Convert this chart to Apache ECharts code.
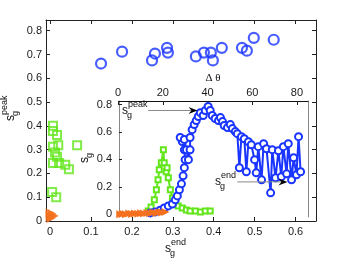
<!DOCTYPE html>
<html><head><meta charset="utf-8">
<script src="https://cdn.jsdelivr.net/npm/echarts@6/dist/echarts.min.js"></script>
<style>html,body{margin:0;padding:0;background:#fff}#c{width:349px;height:260px}</style>
</head><body><div id="c"></div>
<script>
// ---- main panel data: s_g^peak vs s_g^end ----
const greenEnd  = [0.007,0.007,0.017,0.020,0.007,0.012,0.017,0.007,0.022,0.037,0.046,0.066,0.005,0.015];
const greenPeak = [0.400,0.378,0.362,0.318,0.312,0.288,0.270,0.244,0.244,0.236,0.218,0.318,0.122,0.100];
const orangeEnd  = [0.000,0.003,0.005,0.008,0.010,0.002,0.000];
const orangePeak = [0.020,0.015,0.030,0.020,0.022,0.010,0.035];
// ---- blue: s_g^peak vs Δθ ----
const blueDTheta = [-7.6,1.8,15.2,16.5,21.9,22.3,34.8,38.4,41.5,42.4,46.4,55.4,57.6,60.7,69.6];
const bluePeak   = [0.662,0.712,0.675,0.704,0.728,0.708,0.692,0.708,0.708,0.675,0.728,0.728,0.716,0.770,0.762];
// ---- inset: s_g traces ----
const insetBlueX = [0.244,0.256,0.268,0.278,0.288,0.298,0.305,0.310,0.315,0.320,0.324,0.327,0.329,0.327,0.322,0.317,0.327,0.332,0.337,0.341,0.341,0.346,0.351,0.356,0.361,0.366,0.373,0.378,0.385,0.390,0.395,0.402,0.410,0.415,0.420,0.424,0.432,0.439,0.444,0.451,0.456,0.461,0.466,0.473,0.478,0.483,0.490,0.498,0.502,0.507,0.515,0.520,0.527,0.537,0.541,0.549,0.556,0.563,0.568,0.576,0.580,0.588,0.593,0.600,0.605,0.610];
const insetBlueY = [0.010,0.017,0.030,0.046,0.061,0.075,0.105,0.134,0.178,0.222,0.280,0.340,0.398,0.470,0.530,0.560,0.545,0.470,0.398,0.470,0.560,0.617,0.654,0.683,0.713,0.741,0.720,0.757,0.786,0.757,0.720,0.698,0.683,0.705,0.676,0.647,0.632,0.654,0.625,0.603,0.588,0.339,0.566,0.551,0.310,0.529,0.507,0.398,0.302,0.493,0.251,0.515,0.478,0.156,0.471,0.266,0.463,0.273,0.493,0.295,0.515,0.251,0.412,0.288,0.566,0.310];
const insetGreenX = [0.239,0.246,0.254,0.259,0.263,0.266,0.271,0.276,0.278,0.283,0.285,0.288,0.293,0.298,0.305,0.312,0.322,0.332,0.341,0.354,0.366,0.378,0.390];
const insetGreenY = [0.024,0.053,0.105,0.178,0.251,0.324,0.376,0.471,0.376,0.310,0.339,0.266,0.178,0.119,0.083,0.061,0.046,0.031,0.024,0.024,0.017,0.024,0.024];
const insetOrangeX = [0.171,0.178,0.185,0.193,0.200,0.207,0.215,0.222,0.229,0.237,0.244,0.251,0.259,0.266,0.273,0.281];
const insetOrangeY = [0.000,0.003,0.000,0.005,0.002,0.006,0.004,0.008,0.006,0.010,0.008,0.012,0.010,0.014,0.012,0.016];
// ---- ticks ----
const mainXTicks = [0,0.1,0.2,0.3,0.4,0.5,0.6];
const mainYTicks = [0,0.1,0.2,0.3,0.4,0.5,0.6,0.7,0.8];
const thetaTicks = [0,20,40,60,80];
const insetYTicks = [0,0.2,0.4,0.6,0.8];
// ---- annotation arrows (inset data coords) ----
const peakArrow = [[0.239,0.757],[0.359,0.757]];
const endArrow  = [[0.456,0.236],[0.578,0.236]];

const BLUE='#1a35ff', GREEN='#62e61a', ORANGE='#f4701e';
const FONT='"Liberation Sans", Arial, sans-serif';
const zip=(a,b)=>a.map((v,i)=>[v,b[i]]);
const fmt=v=>String(+(+v).toFixed(2));

const chart = echarts.init(document.getElementById('c'), null, {renderer:'canvas'});
const lab = (vals, extra) => Object.assign({customValues: vals, fontSize: 11, color: '#1a1a1a', fontFamily: FONT, formatter: fmt}, extra||{});
const tick = (vals, len) => ({show:true, inside:true, length: len||4, customValues: vals, lineStyle:{color:'#222'}});
const line = (c) => ({show:true, onZero:false, lineStyle:{color:c||'#222', width:1}});

const option = {
  animation:false,
  backgroundColor:'#fff',
  grid:[
    {left:46, top:20, width:270, height:201},
    {left:46, top:20, width:270, height:201},
    {left:119, top:101, width:189, height:116, show:true, backgroundColor:'#fff', borderWidth:0}
  ],
  xAxis:[
    {gridIndex:0, type:'value', min:-0.01, max:0.65, position:'bottom', axisLine:line(), axisTick:tick(mainXTicks), axisLabel:lab(mainXTicks,{margin:5}), splitLine:{show:false}},
    {gridIndex:0, type:'value', min:-0.01, max:0.65, position:'top', axisLine:line(), axisTick:tick(mainXTicks), axisLabel:{show:false}, splitLine:{show:false}},
    {gridIndex:1, type:'value', min:-32.2, max:88.5, position:'top', offset:-81, axisLine:{show:false, onZero:false}, axisTick:tick(thetaTicks), axisLabel:lab(thetaTicks,{margin:3}), splitLine:{show:false}},
    {gridIndex:2, type:'value', min:0.168, max:0.628, position:'bottom', axisLine:{show:false, onZero:false}, axisTick:{show:false}, axisLabel:{show:false}, splitLine:{show:false}},
    {gridIndex:2, type:'value', min:0.168, max:0.628, position:'top', axisLine:line('#111'), axisTick:{show:false}, axisLabel:{show:false}, splitLine:{show:false}}
  ],
  yAxis:[
    {gridIndex:0, type:'value', min:0, max:0.845, position:'left', axisLine:line(), axisTick:tick(mainYTicks), axisLabel:lab(mainYTicks,{margin:4}), splitLine:{show:false}},
    {gridIndex:0, type:'value', min:0, max:0.845, position:'right', axisLine:line(), axisTick:tick(mainYTicks), axisLabel:{show:false}, splitLine:{show:false}},
    {gridIndex:1, type:'value', min:0, max:0.845, show:false},
    {gridIndex:2, type:'value', min:-0.02, max:0.826, position:'left', axisLine:line('#888'), axisTick:tick(insetYTicks,3), axisLabel:lab(insetYTicks,{margin:7}), splitLine:{show:false}},
    {gridIndex:2, type:'value', min:-0.02, max:0.826, position:'right', axisLine:line('#888'), axisTick:{show:false}, axisLabel:{show:false}, splitLine:{show:false}}
  ],
  series:[
    {type:'scatter', xAxisIndex:0, yAxisIndex:0, data:zip(greenEnd,greenPeak), symbol:'rect', symbolSize:8,
      itemStyle:{color:'rgba(0,0,0,0)', borderColor:GREEN, borderWidth:2}},
    {type:'scatter', xAxisIndex:0, yAxisIndex:0, data:zip(orangeEnd,orangePeak), symbol:'triangle', symbolRotate:-90, symbolSize:9,
      itemStyle:{color:ORANGE}},
    {type:'scatter', xAxisIndex:2, yAxisIndex:2, data:zip(blueDTheta,bluePeak), symbol:'circle', symbolSize:10,
      itemStyle:{color:'rgba(0,0,0,0)', borderColor:BLUE, borderWidth:2.2}},
    {type:'line', xAxisIndex:3, yAxisIndex:3, data:zip(insetGreenX,insetGreenY), symbol:'emptyRect', symbolSize:5,
      itemStyle:{color:GREEN, borderWidth:2}, lineStyle:{color:GREEN, width:2}},
    {type:'line', xAxisIndex:3, yAxisIndex:3, data:zip(insetBlueX,insetBlueY), symbol:'emptyCircle', symbolSize:7,
      itemStyle:{color:BLUE, borderWidth:2}, lineStyle:{color:BLUE, width:2}},
    {type:'line', xAxisIndex:3, yAxisIndex:3, data:zip(insetOrangeX,insetOrangeY), symbol:'triangle', symbolRotate:-90, symbolSize:8,
      itemStyle:{color:ORANGE}, lineStyle:{color:ORANGE, width:1.5}}
  ]
};
chart.setOption(option);

function sLabel(x, y, sup, sub, rot, size){
  size = size||12;
  const small = Math.round(size*0.72);
  const ch = [
    {type:'text', x:0, y:0, style:{text:'s', font:size+'px '+FONT, fill:'#111', textAlign:'left', textVerticalAlign:'middle'}}
  ];
  if (sup) ch.push({type:'text', x:6, y:-6, style:{text:sup, font:small+'px '+FONT, fill:'#111', textAlign:'left', textVerticalAlign:'middle'}});
  if (sub) ch.push({type:'text', x:5, y:5, style:{text:sub, font:small+'px '+FONT, fill:'#111', textAlign:'left', textVerticalAlign:'middle'}});
  return {type:'group', x:x, y:y, rotation:rot||0, children:ch};
}
function arrow(a, b){
  const p = chart.convertToPixel({gridIndex:2}, a);
  const q = chart.convertToPixel({gridIndex:2}, b);
  return [
    {type:'line', shape:{x1:p[0], y1:p[1], x2:q[0]-6, y2:q[1]}, style:{stroke:'#888', lineWidth:1}, z:50},
    {type:'polygon', shape:{points:[[q[0],q[1]],[q[0]-9,q[1]-3.5],[q[0]-6,q[1]],[q[0]-9,q[1]+3.5]]}, style:{fill:'#000'}, z:50}
  ];
}
chart.setOption({graphic:[
  sLabel(165, 249, 'end', 'g', 0, 12),
  sLabel(11, 121, 'peak', 'g', Math.PI/2, 12),
  sLabel(85, 163, null, 'g', Math.PI/2, 12),
  sLabel(122, 111, 'peak', 'g', 0, 12),
  sLabel(215, 182, 'end', 'g', 0, 12),
  {type:'text', x:213, y:78, style:{text:'\u0394 \u03b8', font:'11px "Liberation Serif", "Times New Roman", serif', fill:'#111', textAlign:'center', textVerticalAlign:'middle'}},
  ...arrow(peakArrow[0], peakArrow[1]),
  ...arrow(endArrow[0], endArrow[1])
]});
</script></body></html>
